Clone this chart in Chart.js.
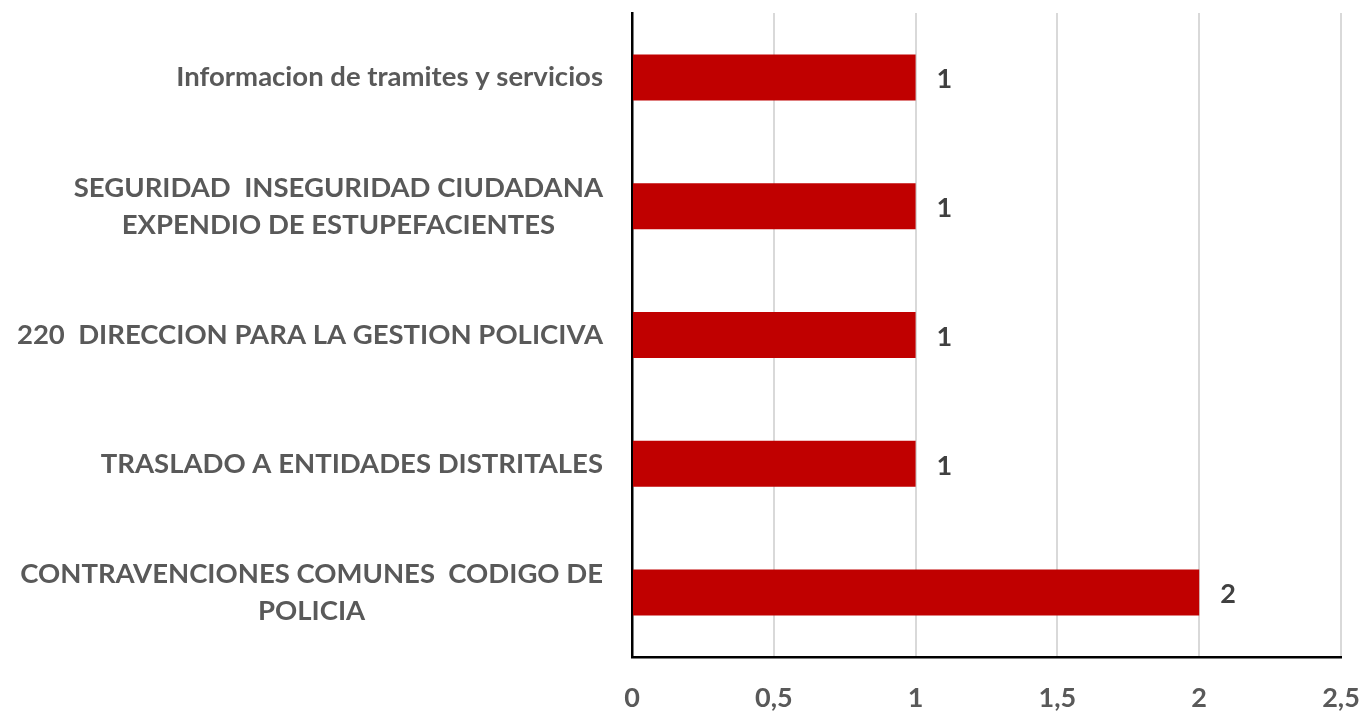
<!DOCTYPE html>
<html>
<head>
<meta charset="utf-8">
<script src="https://cdn.jsdelivr.net/npm/chart.js@4/dist/chart.umd.min.js"></script>
<style>
html,body{margin:0;padding:0;background:#fff;}
#c{display:block;}
</style>
</head>
<body>
<canvas id="c" width="1364" height="712"></canvas>
<script>
const categories = [
  ["Informacion de tramites y servicios"],
  ["SEGURIDAD  INSEGURIDAD CIUDADANA", "EXPENDIO DE ESTUPEFACIENTES"],
  ["220  DIRECCION PARA LA GESTION POLICIVA"],
  ["TRASLADO A ENTIDADES DISTRITALES"],
  ["CONTRAVENCIONES COMUNES  CODIGO DE", "POLICIA"]
];
const values = [1, 1, 1, 1, 2];
const xTickMin = 0, xTickMax = 2.5, xTickStep = 0.5;

const FONT = 'Lato, sans-serif';

const yLabelsPlugin = {
  id: 'yLabels',
  afterDraw(chart) {
    const ctx = chart.ctx;
    const y = chart.scales.y;
    ctx.save();
    ctx.font = 'bold 27.5px ' + FONT;
    ctx.fillStyle = '#595959';
    ctx.textBaseline = 'middle';
    ctx.textAlign = 'center';
    const right = 603;
    const lh = 37;
    categories.forEach((lines, i) => {
      const cy = y.getPixelForValue(i);
      const w = Math.max(...lines.map(l => ctx.measureText(l).width));
      const cx = right - w / 2;
      const y0 = cy - (lines.length - 1) * lh / 2;
      lines.forEach((l, j) => ctx.fillText(l, cx, y0 + j * lh));
    });
    ctx.restore();
  }
};

const valueLabelsPlugin = {
  id: 'valueLabels',
  afterDatasetsDraw(chart) {
    const ctx = chart.ctx;
    const meta = chart.getDatasetMeta(0);
    ctx.save();
    ctx.font = 'bold 27px ' + FONT;
    ctx.fillStyle = '#404040';
    ctx.textBaseline = 'middle';
    ctx.textAlign = 'left';
    meta.data.forEach((bar, i) => {
      ctx.fillText(String(values[i]), bar.x + 21, bar.y + 2);
    });
    ctx.restore();
  }
};

new Chart(document.getElementById('c'), {
  type: 'bar',
  data: {
    labels: categories.map(l => l.join(' ')),
    datasets: [{
      data: values,
      backgroundColor: '#C00000',
      borderWidth: 0,
      barPercentage: 0.357,
      categoryPercentage: 1
    }]
  },
  options: {
    indexAxis: 'y',
    responsive: false,
    animation: false,
    layout: { padding: { left: 632, right: 23, top: 13, bottom: 0 } },
    plugins: { legend: { display: false }, tooltip: { enabled: false } },
    scales: {
      x: {
        min: xTickMin, max: xTickMax,
        afterFit(scale) { scale.paddingRight = 0; scale.paddingLeft = 0; scale.height = 55; },
        ticks: {
          stepSize: xTickStep,
          color: '#595959',
          font: { family: FONT, size: 27, weight: 'bold', lineHeight: 1 },
          padding: 28,
          callback: v => String(v).replace('.', ',')
        },
        grid: { color: '#d9d9d9', lineWidth: 2, drawTicks: false },
        border: { display: true, color: '#000', width: 2.5 }
      },
      y: {
        ticks: { display: false },
        grid: { display: false, drawTicks: false },
        border: { display: true, color: '#000', width: 2.5 }
      }
    }
  },
  plugins: [yLabelsPlugin, valueLabelsPlugin]
});
</script>
</body>
</html>
